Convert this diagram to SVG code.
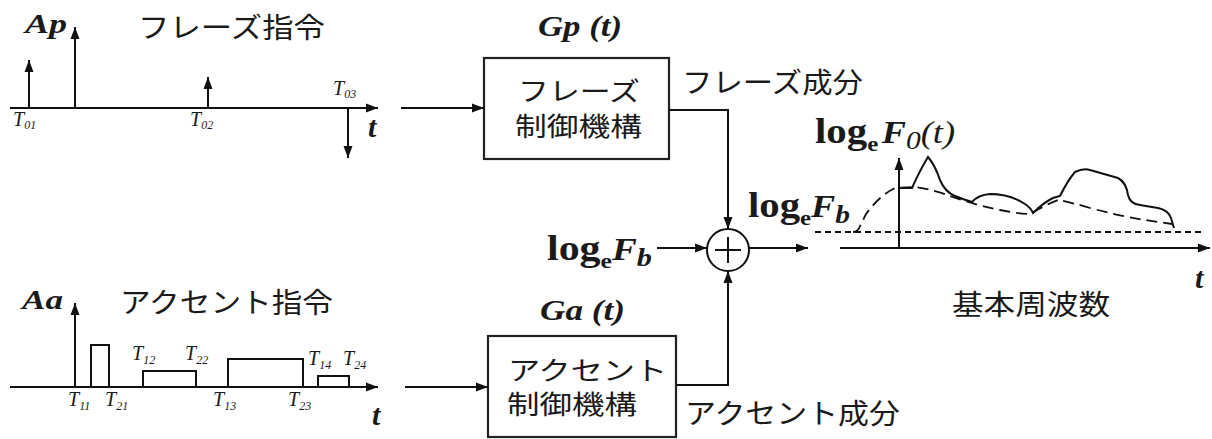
<svg xmlns="http://www.w3.org/2000/svg" width="1212" height="439" viewBox="0 0 1212 439">
<defs>
<marker id="ah" markerUnits="userSpaceOnUse" markerWidth="13" markerHeight="10" refX="12" refY="5" orient="auto">
<path d="M0,0.5 L12,5 L0,9.5 z" fill="#111"/>
</marker>
<style>
.ln{stroke:#111;stroke-width:2;fill:none}
.ar{stroke:#111;stroke-width:2;fill:none;marker-end:url(#ah)}
.box{stroke:#222;stroke-width:2.2;fill:#fff}
.jp{font-family:"Noto Sans CJK JP","Noto Sans",sans-serif;font-size:28px;fill:#1a1a1a}
.bx{font-size:26px}
.it{font-family:"Liberation Serif",serif;font-style:italic;font-weight:bold;fill:#1a1a1a}
.tl{font-family:"Liberation Serif",serif;font-style:italic;font-size:20px;fill:#1a1a1a}
.ts{font-size:12px}
.lg{font-family:"Liberation Serif",serif;font-weight:bold;font-size:36px;fill:#1a1a1a}
.sb{font-size:22px}
.F{font-style:italic;font-size:32px}
.Fb{font-style:italic;font-size:26px}
.dsh{stroke:#111;stroke-width:1.8;fill:none;stroke-dasharray:6 4}
.dsl{stroke:#111;stroke-width:1.8;fill:none;stroke-dasharray:11 6}
</style>
</defs>

<g id="phrase-command">
<line class="ar" x1="10" y1="108" x2="378" y2="108"/>
<line class="ar" x1="29" y1="108" x2="29" y2="60"/>
<line class="ar" x1="75" y1="108" x2="75" y2="27"/>
<line class="ar" x1="208" y1="108" x2="208" y2="77"/>
<line class="ar" x1="348" y1="108" x2="348" y2="158"/>
<text class="it" x="25" y="33" font-size="28" textLength="42" lengthAdjust="spacingAndGlyphs">Ap</text>
<text class="jp" x="138" y="38" textLength="187" lengthAdjust="spacingAndGlyphs">フレーズ指令</text>
<text class="tl" x="13" y="126">T<tspan class="ts" dy="3">01</tspan></text>
<text class="tl" x="190" y="126">T<tspan class="ts" dy="3">02</tspan></text>
<text class="tl" x="333" y="95">T<tspan class="ts" dy="3">03</tspan></text>
<text class="it" x="368" y="137" font-size="30" font-weight="normal">t</text>
</g>

<g id="accent-command">
<line class="ar" x1="10" y1="387" x2="378" y2="387"/>
<line class="ar" x1="75" y1="387" x2="75" y2="303"/>
<path class="ln" d="M91,387 V345 H109 V387 M143,387 V371 H196 V387 M228,387 V359 H303 V387 M318,387 V376 H349 V387"/>
<text class="it" x="22" y="309" font-size="28" textLength="41" lengthAdjust="spacingAndGlyphs">Aa</text>
<text class="jp" x="120" y="313" textLength="213" lengthAdjust="spacingAndGlyphs">アクセント指令</text>
<text class="tl" x="68" y="406">T<tspan class="ts" dy="4">11</tspan></text>
<text class="tl" x="105" y="406">T<tspan class="ts" dy="4">21</tspan></text>
<text class="tl" x="132" y="360">T<tspan class="ts" dy="4">12</tspan></text>
<text class="tl" x="185" y="360">T<tspan class="ts" dy="4">22</tspan></text>
<text class="tl" x="213" y="406">T<tspan class="ts" dy="4">13</tspan></text>
<text class="tl" x="288" y="406">T<tspan class="ts" dy="4">23</tspan></text>
<text class="tl" x="308" y="365">T<tspan class="ts" dy="4">14</tspan></text>
<text class="tl" x="343" y="365">T<tspan class="ts" dy="4">24</tspan></text>
<text class="it" x="372" y="425" font-size="30" font-weight="normal">t</text>
</g>

<g id="phrase-box">
<rect class="box" x="484" y="58" width="185" height="101"/>
<text class="it" x="538" y="36" font-size="30" textLength="84" lengthAdjust="spacingAndGlyphs">Gp (t)</text>
<text class="jp bx" x="518" y="101" textLength="122" lengthAdjust="spacingAndGlyphs">フレーズ</text>
<text class="jp bx" x="515" y="136" textLength="127" lengthAdjust="spacingAndGlyphs">制御機構</text>
<text class="jp" x="682" y="93" textLength="181" lengthAdjust="spacingAndGlyphs">フレーズ成分</text>
</g>

<g id="accent-box">
<rect class="box" x="488" y="336" width="188" height="101"/>
<text class="it" x="540" y="320" font-size="30" textLength="85" lengthAdjust="spacingAndGlyphs">Ga (t)</text>
<text class="jp bx" x="508" y="380" textLength="159" lengthAdjust="spacingAndGlyphs">アクセント</text>
<text class="jp bx" x="507" y="414" textLength="130" lengthAdjust="spacingAndGlyphs">制御機構</text>
<text class="jp" x="685" y="424" textLength="215" lengthAdjust="spacingAndGlyphs">アクセント成分</text>
</g>

<g id="sum">
<circle cx="728" cy="250" r="21" fill="#fff" stroke="#111" stroke-width="2"/>
<path class="ln" d="M728,237 V263 M715,250 H741"/>
</g>

<g id="base-input">
<text class="lg" x="547" y="260" textLength="105" lengthAdjust="spacingAndGlyphs">log<tspan class="sb" dy="8">e</tspan><tspan class="F" dy="-8">F</tspan><tspan class="Fb" dy="6">b</tspan></text>
</g>

<g id="connectors">
<line class="ar" x1="401" y1="108" x2="484" y2="108"/>
<line class="ar" x1="405" y1="387" x2="488" y2="387"/>
<path class="ar" d="M669,110 H728 V229"/>
<path class="ar" d="M676,385 H728 V271"/>
<line class="ar" x1="657" y1="248" x2="707" y2="248"/>
<line class="ar" x1="749" y1="248" x2="808" y2="248"/>
</g>

<g id="f0-plot">
<line class="ar" x1="840" y1="248" x2="1210" y2="248"/>
<line class="ar" x1="899" y1="248" x2="899" y2="158"/>
<line class="dsh" x1="815" y1="232" x2="1205" y2="232"/>
<path class="dsl" d="M853,232 Q858,232 860,226 L866,214 Q880,195 895,188 L915,187 Q935,190 950,196 Q975,205 1000,210 Q1020,214 1030,214 Q1045,205 1058,200 Q1070,202 1090,208 Q1120,216 1145,220 L1172,224"/>
<path class="ln" d="M900,188 L912,188 Q920,170 928,157 Q935,165 940,180 Q945,192 955,196 Q965,200 972,202 Q978,195 990,194 Q1010,194 1025,204 Q1031,208 1033,213 Q1043,203 1053,198 L1060,196 Q1068,180 1075,172 Q1083,168 1090,170 L1118,178 Q1126,182 1128,195 Q1130,204 1140,205 L1158,208 Q1168,210 1171,218 L1174,228"/>
<text class="lg" x="815" y="143" textLength="140" lengthAdjust="spacingAndGlyphs">log<tspan class="sb" dy="8">e</tspan><tspan class="F" dy="-8" dx="3">F</tspan><tspan class="Fb" dy="6" font-style="normal" font-weight="normal">0</tspan><tspan class="F" dy="-6" font-weight="normal">(t)</tspan></text>
<text class="lg" x="748" y="217" textLength="102" lengthAdjust="spacingAndGlyphs">log<tspan class="sb" dy="8">e</tspan><tspan class="F" dy="-8">F</tspan><tspan class="Fb" dy="6">b</tspan></text>
<text class="jp" x="952" y="315" font-size="30" textLength="158" lengthAdjust="spacingAndGlyphs">基本周波数</text>
<text class="it" x="1195" y="288" font-size="30" font-weight="normal">t</text>
</g>
</svg>
